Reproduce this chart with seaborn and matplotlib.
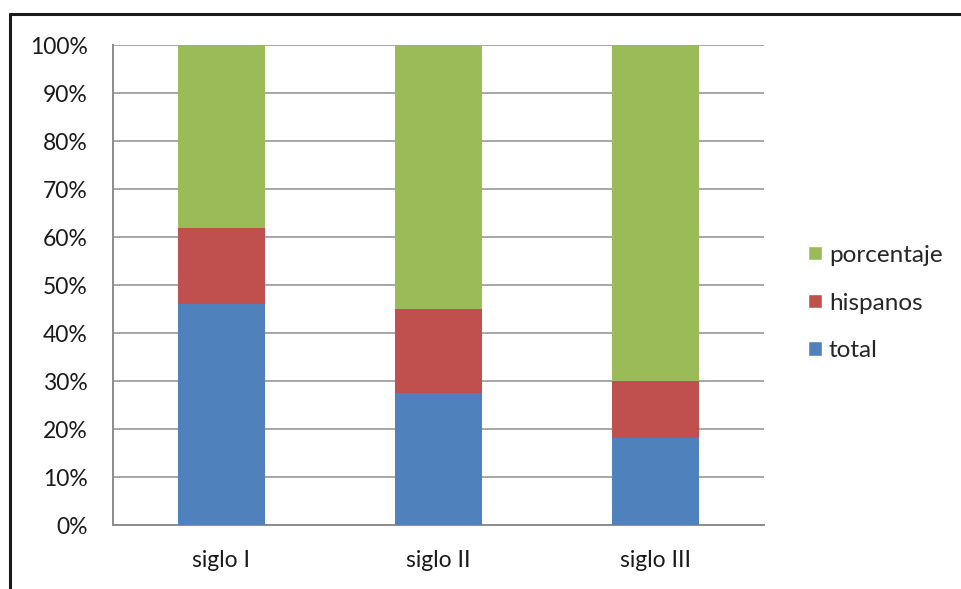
import numpy as np
import pandas as pd
import matplotlib
matplotlib.use("Agg")
import matplotlib.pyplot as plt
from matplotlib.lines import Line2D
from matplotlib.patches import Patch
from matplotlib.ticker import MultipleLocator, FuncFormatter
import seaborn as sns

# data (shares in percent, stacked to 100%)
categories = ["siglo I", "siglo II", "siglo III"]
total = [46.1, 27.4, 18.1]
hispanos = [15.7, 17.6, 11.9]
porcentaje = [38.2, 55.0, 70.0]

series_names = ["total", "hispanos", "porcentaje"]
colors = {"total": "#4F81BD", "hispanos": "#C0504D", "porcentaje": "#9BBB59"}

df = pd.DataFrame({"siglo": categories, "total": total,
                   "hispanos": hispanos, "porcentaje": porcentaje})
# cumulative tops, drawn from the tallest down so each layer shows
df["cum_total"] = df["total"]
df["cum_hispanos"] = df["total"] + df["hispanos"]
df["cum_porcentaje"] = df["cum_hispanos"] + df["porcentaje"]

sns.set_style("white")
plt.rcParams["font.family"] = ["Lato", "DejaVu Sans"]
FS = 16.5

fig = plt.figure(figsize=(9.62, 5.89), dpi=100)
ax = fig.add_axes([113 / 962, 64 / 589, 651 / 962, 480 / 589])

for name in reversed(series_names):
    sns.barplot(data=df, x="siglo", y="cum_" + name, color=colors[name],
                width=0.4, saturation=1, linewidth=0, ax=ax, zorder=3)

ax.set_xlim(-0.5, 2.5)
ax.set_ylim(0, 100)
ax.yaxis.set_major_locator(MultipleLocator(10))
ax.yaxis.set_major_formatter(FuncFormatter(lambda v, p: f"{v:.0f}%"))
ax.grid(axis="y", color="#A6A6A6", linewidth=1.4, zorder=0)
ax.set_axisbelow(True)
ax.set_xlabel("")
ax.set_ylabel("")

for s in ["top", "right"]:
    ax.spines[s].set_visible(False)
for s in ["left", "bottom"]:
    ax.spines[s].set_color("#8C8C8C")
    ax.spines[s].set_linewidth(1.4)

ax.tick_params(axis="y", length=6.3, width=1.4, color="#8C8C8C", labelsize=FS,
               labelcolor="#1a1a1a", pad=12)
ax.tick_params(axis="x", which="major", length=0, labelsize=FS,
               labelcolor="#1a1a1a", pad=18)
ax.set_xticks([-0.5, 0.5, 1.5, 2.5], minor=True)
ax.tick_params(axis="x", which="minor", length=7.2, width=1.4, color="#8C8C8C")

handles = [Patch(facecolor=colors[n], label=n) for n in reversed(series_names)]
fig.legend(handles=handles, loc="center left", bbox_to_anchor=(796 / 962, 1 - 303 / 589),
           frameon=False, fontsize=17.5, handlelength=0.55, handleheight=0.55,
           handletextpad=0.3, labelspacing=1.1, borderpad=0)

# outer chart frame, partly cut off at the right and bottom
fig.add_artist(Line2D([10 / 962, 10 / 962], [0, 1 - 14 / 589], color="#1a1a1a",
                      linewidth=2.2, transform=fig.transFigure))
fig.add_artist(Line2D([10 / 962, 1], [1 - 14 / 589, 1 - 14 / 589], color="#1a1a1a",
                      linewidth=2.2, transform=fig.transFigure))

fig.savefig("out.png", dpi=100)
